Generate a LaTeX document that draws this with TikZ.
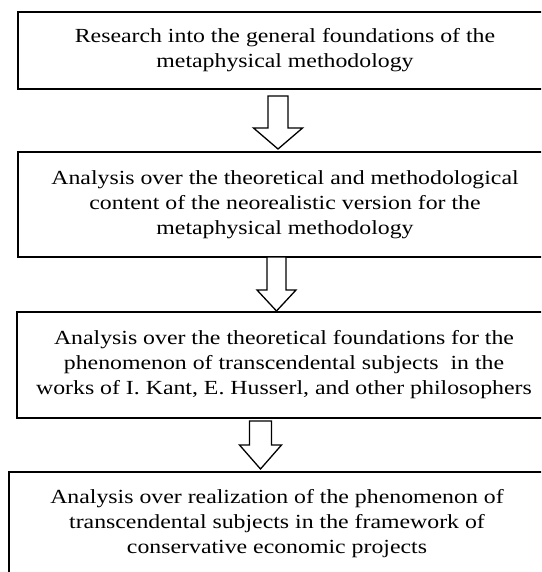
\documentclass[tikz,border=0pt]{standalone}
\usepackage{fontspec}
\setmainfont[FakeStretch=1.19]{Liberation Serif}
\tikzset{
  stagebox/.style={draw=black, line width=1.3pt, inner sep=0pt, align=center,
    font=\fontsize{20}{25}\selectfont},
  blockarrow/.style={draw=black, line width=1.3pt, fill=white, line join=miter},
}
% #1 centre x, #2 top y, #3 head start y, #4 tip y, #5 shaft half width, #6 head half width
\newcommand\hollowdown[6]{%
  \draw[blockarrow] (#1-#5,#2) -- (#1+#5,#2) -- (#1+#5,#3) -- (#1+#6,#3) --
    (#1,#4) -- (#1-#6,#3) -- (#1-#5,#3) -- cycle;}
\begin{document}
\begin{tikzpicture}[x=1pt,y=-1pt]
\useasboundingbox (0,0) rectangle (541,572);
\clip (0,0) rectangle (541,572);
\node[stagebox, minimum width=534pt, minimum height=77pt] (b1) at (285,50.5)
  {Research into the general foundations of the\\metaphysical methodology};
\node[stagebox, minimum width=534pt, minimum height=105pt] (b2) at (285,204.5)
  {Analysis over the theoretical and methodological\\content of the neorealistic version for the\\metaphysical methodology};
\node[stagebox, minimum width=534pt, minimum height=106pt] (b3) at (284,365)
  {Analysis over the theoretical foundations for the\\phenomenon of transcendental subjects\ \ in the\\works of I. Kant, E. Husserl, and other philosophers};
\node[stagebox, minimum width=536pt, minimum height=104pt] (b4) at (277,524)
  {Analysis over realization of the phenomenon of\\transcendental subjects in the framework of\\conservative economic projects};
\hollowdown{278}{96}{128}{149}{10}{24.5}
\hollowdown{276.5}{257}{290}{311}{9.5}{19.5}
\hollowdown{260.5}{421}{445}{469}{11}{21}
\end{tikzpicture}
\end{document}
